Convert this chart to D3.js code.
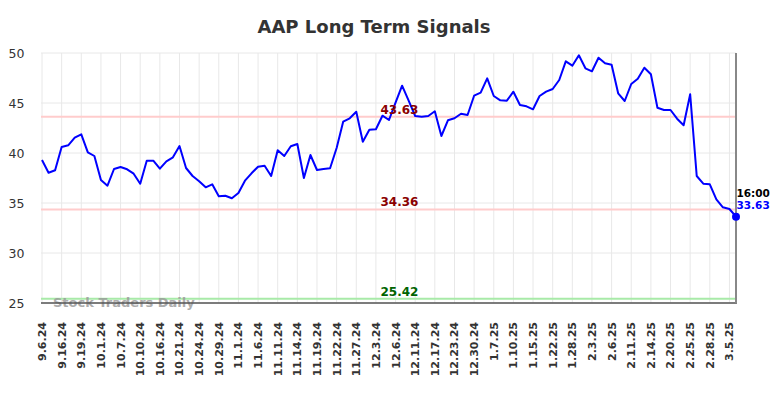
<!DOCTYPE html>
<html>
<head>
<meta charset="utf-8">
<script src="https://cdn.jsdelivr.net/npm/d3@7"></script>
<style>
  body { margin: 0; background: #fff; }
  svg { display: block; font-family: "DejaVu Sans", sans-serif; }
</style>
</head>
<body>
<svg id="chart" width="784" height="398"></svg>
<script>
// tick labels, one every 3rd point
var tickDates = ["9.6.24","9.16.24","9.19.24","10.1.24","10.7.24","10.10.24","10.16.24","10.21.24",
    "10.24.24","10.29.24","11.1.24","11.6.24","11.11.24","11.14.24","11.19.24","11.22.24","11.27.24",
    "12.3.24","12.6.24","12.11.24","12.17.24","12.23.24","12.30.24","1.7.25","1.10.25","1.15.25",
    "1.22.25","1.28.25","2.3.25","2.6.25","2.11.25","2.14.25","2.20.25","2.25.25","2.28.25","3.5.25"];
var tickStep = 3;

// closing prices
var prices = [39.3,38.03,38.27,40.6,40.77,41.53,41.87,40.07,39.7,37.3,
    36.73,38.4,38.6,38.37,37.93,36.93,39.23,39.23,38.43,39.17,
    39.57,40.7,38.5,37.7,37.17,36.57,36.87,35.67,35.73,35.47,
    36.0,37.23,37.97,38.63,38.73,37.7,40.27,39.7,40.67,40.9,
    37.5,39.8,38.3,38.4,38.47,40.5,43.13,43.47,44.13,41.13,
    42.33,42.37,43.73,43.3,45.03,46.73,45.23,43.7,43.63,43.7,
    44.17,41.7,43.27,43.47,43.93,43.8,45.73,46.03,47.47,45.7,
    45.27,45.23,46.13,44.8,44.67,44.37,45.7,46.13,46.4,47.3,
    49.17,48.73,49.77,48.47,48.17,49.53,48.97,48.83,45.97,45.2,
    46.9,47.43,48.53,47.87,44.53,44.3,44.3,43.43,42.77,45.87,
    37.7,36.93,36.87,35.37,34.57,34.4,33.63];

var yTicks = [25, 30, 35, 40, 45, 50];

var signalLevels = [43.63, 34.36, 25.42];
var signalColors = ["#ffcccc", "#ffcccc", "#a8eaa8"];
var signalTextColors = ["#8b0000", "#8b0000", "#006400"];

var lastTime = "16:00";

var svg = d3.select("#chart");
var pLeft = 41, pRight = 736, pTop = 53, pBottom = 303;

var x = d3.scaleLinear().domain([0, prices.length - 1]).range([pLeft + 1, pRight]);
var y = d3.scaleLinear().domain([25, 50]).range([pBottom, pTop]);

var tickIdx = tickDates.map(function(d, i){ return i * tickStep; });

// grid
svg.append("g").selectAll("line").data(tickIdx).enter().append("line")
    .attr("x1", function(d){ return x(d); }).attr("x2", function(d){ return x(d); })
    .attr("y1", pTop).attr("y2", pBottom)
    .attr("stroke", "#e8e8e8").attr("stroke-width", 1);
svg.append("g").selectAll("line").data(yTicks).enter().append("line")
    .attr("x1", pLeft).attr("x2", pRight)
    .attr("y1", function(d){ return y(d); }).attr("y2", function(d){ return y(d); })
    .attr("stroke", "#e8e8e8").attr("stroke-width", 1);

// title
svg.append("text")
    .attr("x", 374).attr("y", 32.5)
    .attr("text-anchor", "middle")
    .style("font-size", "18px").style("font-weight", "bold").style("fill", "#333")
    .text("AAP Long Term Signals");

// y labels
svg.append("g").selectAll("text").data(yTicks).enter().append("text")
    .attr("x", 24.5).attr("y", function(d){ return y(d); })
    .attr("dy", "0.36em").attr("text-anchor", "end")
    .style("font-size", "12.5px").style("fill", "#333")
    .text(function(d){ return d; });

// x labels
svg.append("g").selectAll("text").data(tickIdx).enter().append("text")
    .attr("transform", function(d){ return "translate(" + x(d) + ",322) rotate(-90)"; })
    .attr("dy", "0.36em").attr("text-anchor", "end")
    .style("font-size", "11px").style("font-weight", "bold").style("fill", "#333")
    .text(function(d, i){ return tickDates[i]; });

// signal lines
svg.append("g").selectAll("line").data(signalLevels).enter().append("line")
    .attr("x1", pLeft).attr("x2", pRight)
    .attr("y1", function(d){ return y(d); }).attr("y2", function(d){ return y(d); })
    .attr("stroke", function(d, i){ return signalColors[i]; }).attr("stroke-width", 2);

// watermark
svg.append("text")
    .attr("x", 53).attr("y", 306.5)
    .style("font-size", "13px").style("font-weight", "bold").style("fill", "#999").style("opacity", 0.8)
    .text("Stock Traders Daily");

// axis lines
svg.append("line").attr("x1", pLeft).attr("x2", pRight + 1).attr("y1", pBottom).attr("y2", pBottom)
    .attr("stroke", "#555").attr("stroke-width", 1.5);
svg.append("line").attr("x1", pRight).attr("x2", pRight).attr("y1", pTop).attr("y2", pBottom)
    .attr("stroke", "#888").attr("stroke-width", 2);

// price line
var line = d3.line()
    .x(function(d, i){ return x(i); })
    .y(function(d){ return y(d); });
svg.append("path").datum(prices)
    .attr("d", line)
    .attr("fill", "none").attr("stroke", "#0000ff").attr("stroke-width", 2)
    .attr("stroke-linejoin", "round");

// signal labels
svg.append("g").selectAll("text").data(signalLevels).enter().append("text")
    .attr("x", 399.5).attr("y", function(d){ return y(d) - 3; })
    .attr("text-anchor", "middle")
    .style("font-size", "12px").style("font-weight", "bold")
    .style("fill", function(d, i){ return signalTextColors[i]; })
    .text(function(d){ return d.toFixed(2); });

// last point
var lastI = prices.length - 1;
svg.append("circle")
    .attr("cx", x(lastI)).attr("cy", y(prices[lastI])).attr("r", 4)
    .attr("fill", "#0000ff");
svg.append("text")
    .attr("x", x(lastI) + 0.5).attr("y", 196.5)
    .style("font-size", "10.5px").style("font-weight", "bold").style("fill", "#000")
    .text(lastTime);
svg.append("text")
    .attr("x", x(lastI) + 0.5).attr("y", 209)
    .style("font-size", "10.5px").style("font-weight", "bold").style("fill", "#0000ff")
    .text(prices[lastI].toFixed(2));
</script>
</body>
</html>
